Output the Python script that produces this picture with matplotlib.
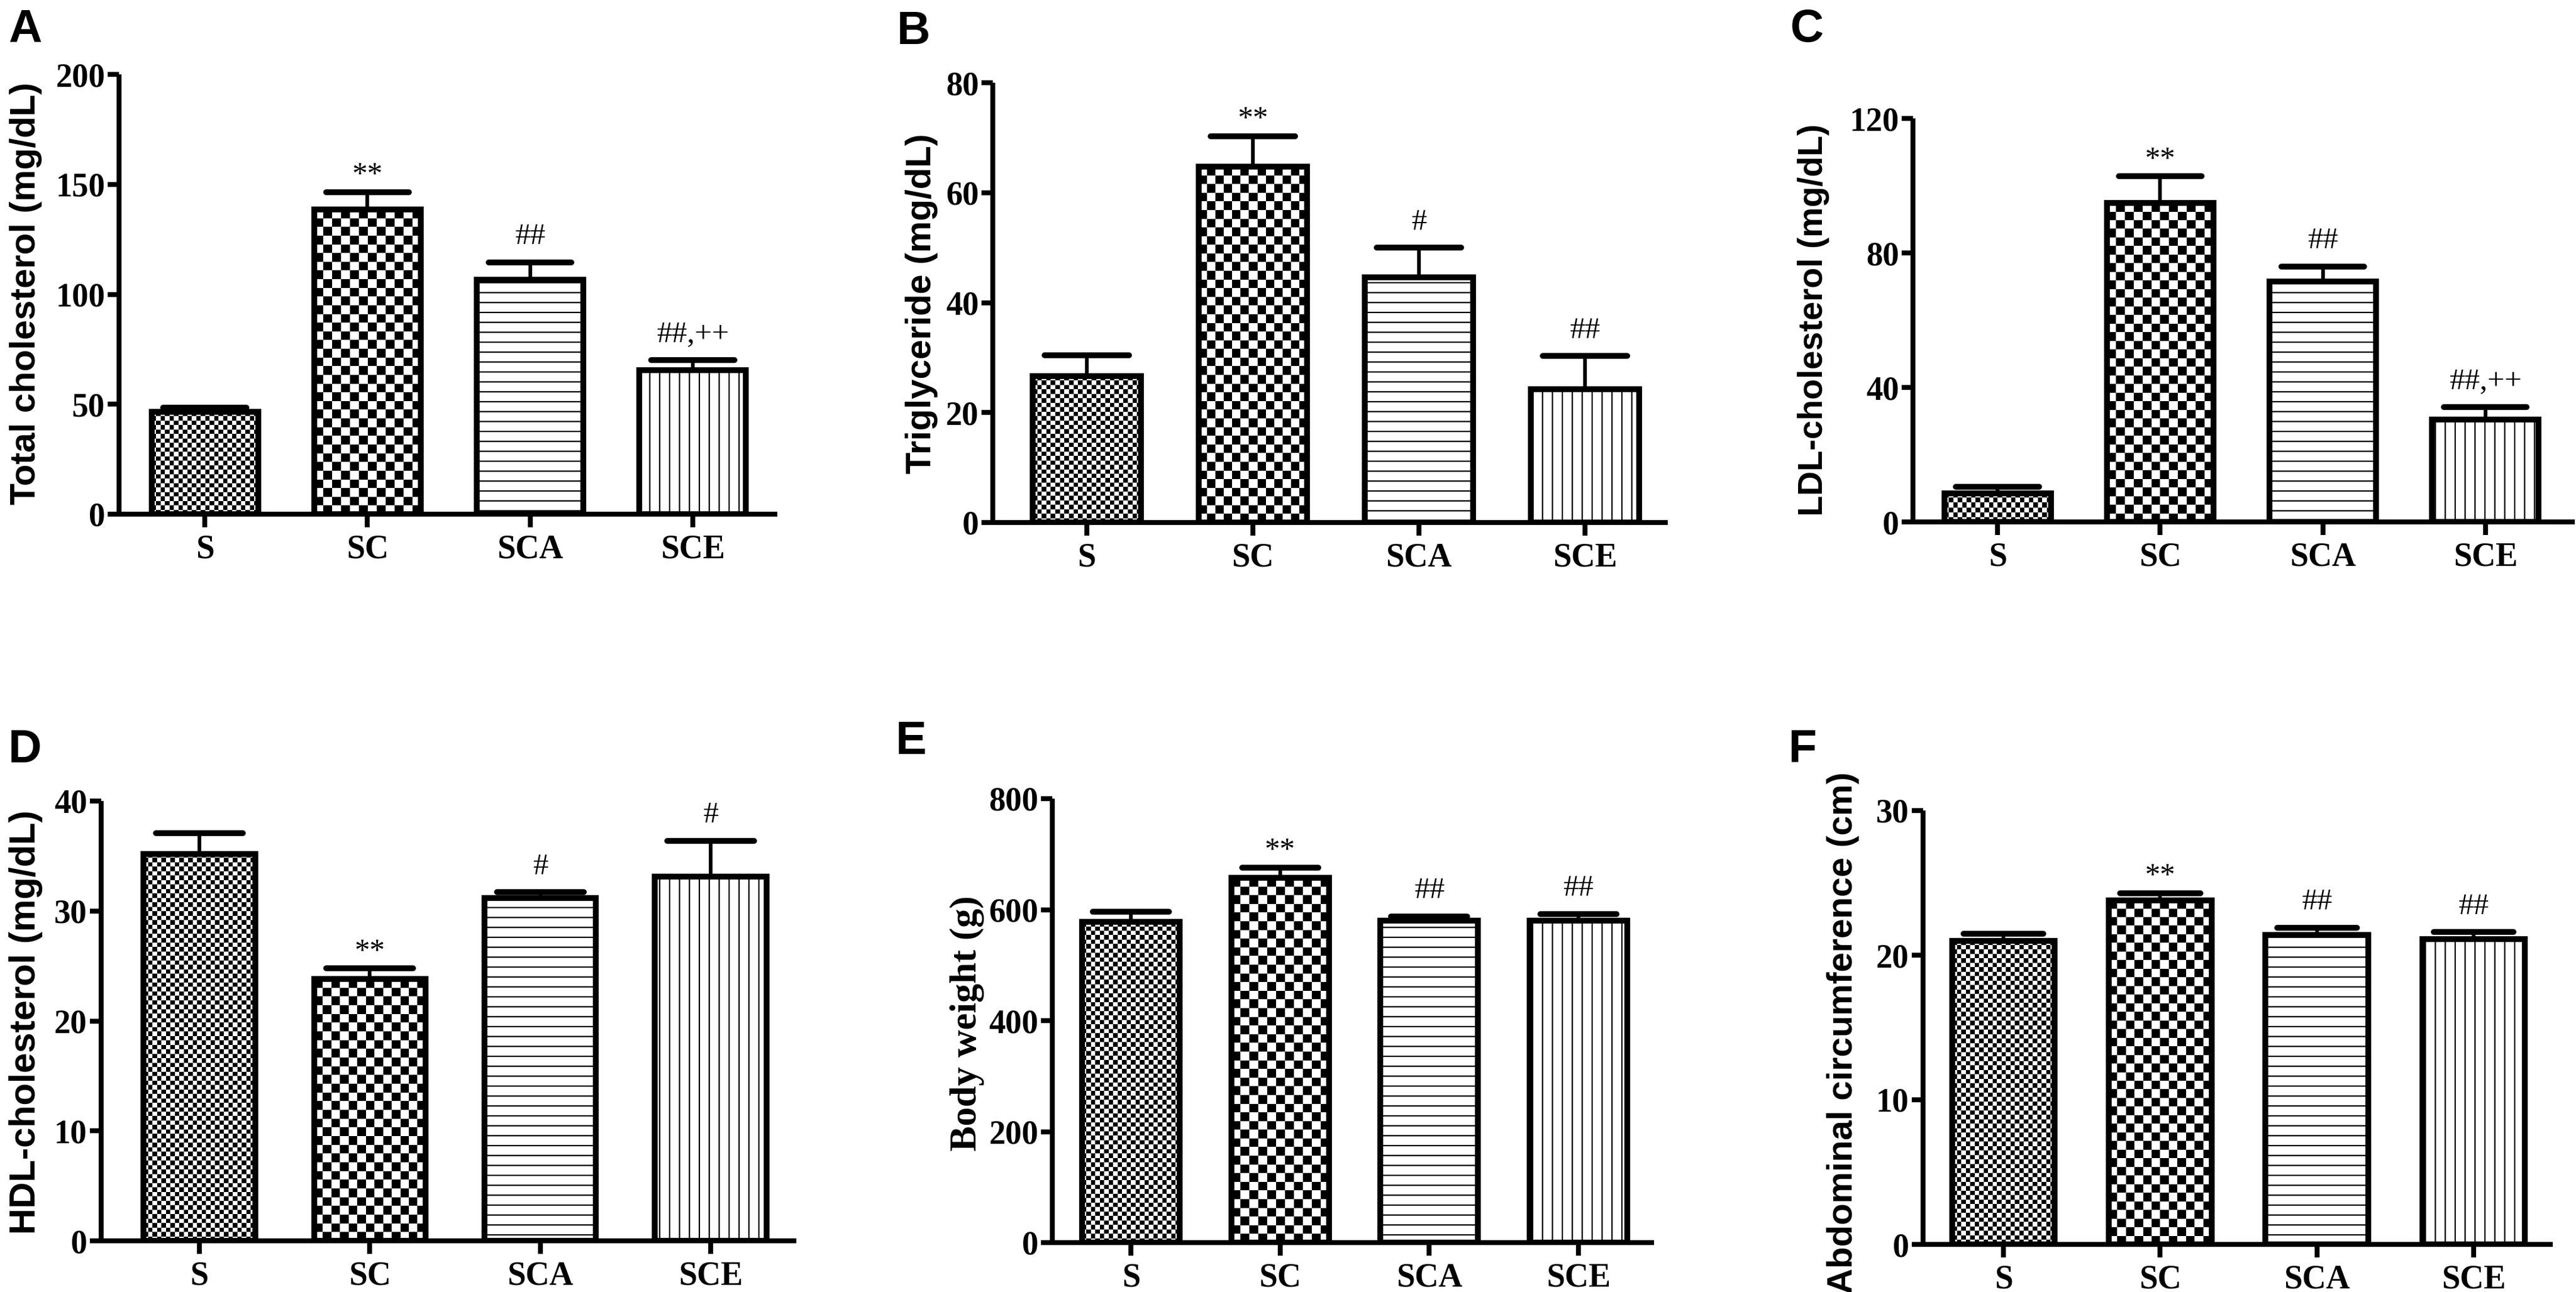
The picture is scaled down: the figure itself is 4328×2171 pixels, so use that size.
import numpy as np
import matplotlib
matplotlib.use("Agg")
import matplotlib.pyplot as plt

# figure size in pixels (dpi 100)
W, H = 4328, 2171
DPI = 100

groups = ["S", "SC", "SCA", "SCE"]

# panel A - total cholesterol (mg/dL)
total_chol = [46.5, 138.5, 106.5, 65.5]
total_chol_err = [2.0, 8.0, 8.0, 4.5]
total_chol_marks = ["", "**", "##", "##,++"]

# panel B - triglyceride (mg/dL)
trig = [26.6, 64.7, 44.6, 24.2]
trig_err = [3.8, 5.6, 5.4, 6.1]
trig_marks = ["", "**", "#", "##"]

# panel C - LDL cholesterol (mg/dL)
ldl = [8.5, 94.8, 71.5, 30.5]
ldl_err = [2.0, 8.0, 4.5, 3.6]
ldl_marks = ["", "**", "##", "##,++"]

# panel D - HDL cholesterol (mg/dL)
hdl = [35.2, 23.8, 31.2, 33.1]
hdl_err = [1.9, 1.0, 0.5, 3.3]
hdl_marks = ["", "**", "#", "#"]

# panel E - body weight (g)
weight = [578, 657, 580, 580]
weight_err = [18, 19, 8, 12]
weight_marks = ["", "**", "##", "##"]

# panel F - abdominal circumference (cm)
abdominal = [21.0, 23.8, 21.4, 21.1]
abdominal_err = [0.5, 0.5, 0.5, 0.5]
abdominal_marks = ["", "**", "##", "##"]

SERIF = "Liberation Serif"
SANS = "Liberation Sans"

# fill style per group: ("checker", cell px) or hatch string
fills = [("checker", 7.5), ("checker", 14.5), "-", "|"]

plt.rcParams["hatch.linewidth"] = 1.6

fig = plt.figure(figsize=(W / DPI, H / DPI), dpi=DPI)
fig.patch.set_facecolor("white")


def checker_fill(ax, bar, cell_px):
    pos = ax.get_position()
    x0, x1 = ax.get_xlim()
    y0, y1 = ax.get_ylim()
    bw, bh = bar.get_width(), bar.get_height()
    px_w = bw / (x1 - x0) * pos.width * W
    px_h = bh / (y1 - y0) * pos.height * H
    nx = max(1, int(round(px_w / cell_px)))
    ny = max(1, int(round(px_h / cell_px)))
    grid = np.add.outer(np.arange(ny), np.arange(nx)) % 2
    im = ax.imshow(grid, cmap="gray_r", vmin=0, vmax=1, origin="lower",
                   extent=(bar.get_x(), bar.get_x() + bw, bar.get_y(), bar.get_y() + bh),
                   interpolation="nearest", aspect="auto", zorder=1)
    im.set_clip_path(bar)


def panel(box, xmargins, ymax, ystep, values, errs, marks, ylabel, ylab_pos,
          ylab_size, letter, letter_pos, ylab_font=SANS):
    left, right, bottom, top = box
    ax = fig.add_axes([left / W, 1 - bottom / H, (right - left) / W, (bottom - top) / H])
    ax.set_xlim(-xmargins[0], len(groups) - 1 + xmargins[1])
    ax.set_ylim(0, ymax)
    x = np.arange(len(groups))

    bars = ax.bar(x, values, width=0.655, facecolor="none", edgecolor="black",
                  linewidth=7, zorder=2)
    for bar, f in zip(bars, fills):
        if isinstance(f, tuple):
            checker_fill(ax, bar, f[1])
        else:
            bar.set_hatch(f)
    ax.set_xlim(-xmargins[0], len(groups) - 1 + xmargins[1])
    ax.set_ylim(0, ymax)

    tops = np.array(values) + np.array(errs)
    ax.vlines(x, values, tops, color="black", linewidth=4.5, zorder=3)
    ax.hlines(tops, x - 0.255, x + 0.255, color="black", linewidth=7,
              capstyle="round", zorder=3)

    for xi, t, m in zip(x, tops, marks):
        if not m:
            continue
        off = 11 if m.startswith("*") else 22
        ax.annotate(m, (xi, t), xytext=(0, off), textcoords="offset points",
                    ha="center", va="baseline", fontsize=37, family=SERIF,
                    annotation_clip=False)

    for s in ["top", "right"]:
        ax.spines[s].set_visible(False)
    for s in ["left", "bottom"]:
        ax.spines[s].set_linewidth(6)
        ax.spines[s].set_capstyle("butt")

    ax.set_yticks(np.arange(0, ymax + ystep / 2, ystep))
    ax.set_xticks(x)
    ax.set_xticklabels(groups)
    ax.tick_params(axis="y", direction="out", length=14, width=6, pad=3)
    ax.tick_params(axis="x", direction="out", length=16, width=6, pad=8)
    for lab in ax.get_yticklabels() + ax.get_xticklabels():
        lab.set_fontfamily(SERIF)
        lab.set_fontweight("bold")
        lab.set_fontsize(40)
    ax.patch.set_alpha(0)

    fig.text(ylab_pos[0] / W, 1 - ylab_pos[1] / H, ylabel, rotation=90,
             ha="center", va="center", fontsize=ylab_size, fontweight="bold",
             family=ylab_font)
    fig.text(letter_pos[0] / W, 1 - letter_pos[1] / H, letter, ha="left",
             va="top", fontsize=56, fontweight="bold", family=SANS)
    return ax


panel((200, 1306, 864, 125), (0.527, 0.52), 200, 50, total_chol, total_chol_err,
      total_chol_marks, "Total cholesterol (mg/dL)", (44, 493), 43, "A", (14, 14))
panel((1668, 2802, 878, 139), (0.566, 0.498), 80, 20, trig, trig_err,
      trig_marks, "Triglyceride (mg/dL)", (1548, 510), 43, "B", (1507, 17))
panel((3214, 4326, 877, 199), (0.52, 0.55), 120, 40, ldl, ldl_err,
      ldl_marks, "LDL-cholesterol (mg/dL)", (3047, 538), 41, "C", (3008, 13))
panel((170, 1338, 2085, 1346), (0.576, 0.503), 40, 10, hdl, hdl_err,
      hdl_marks, "HDL-cholesterol (mg/dL)", (44, 1718), 44, "D", (14, 1224))
panel((1768, 2779, 2088, 1342), (0.527, 0.507), 800, 200, weight, weight_err,
      weight_marks, "Body weight (g)", (1625, 1720), 46, "E", (1505, 1210), SERIF)
panel((3231, 4289, 2091, 1362), (0.513, 0.505), 30, 10, abdominal, abdominal_err,
      abdominal_marks, "Abdominal circumference (cm)", (3096, 1735), 43, "F", (3005, 1224))

fig.savefig("out.png", dpi=DPI, facecolor="white")
